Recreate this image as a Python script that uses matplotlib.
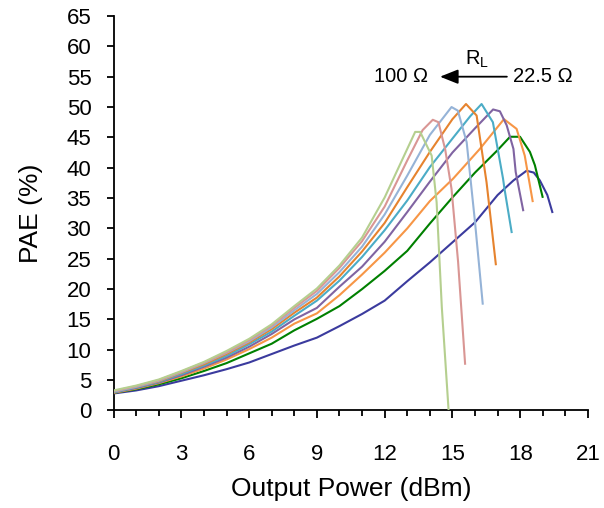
import numpy as np
import matplotlib
matplotlib.use('Agg')
import matplotlib.pyplot as plt
from matplotlib.ticker import MultipleLocator

plt.rcParams['font.family'] = ['Liberation Sans', 'DejaVu Sans']

# ── Data: PAE vs output power for 9 load resistances (22.5 Ω → 100 Ω) ──────────
# 22.5 Ω (navy)
p_navy = [0, 1, 2, 3, 4, 5, 6, 7, 8, 9, 10, 11, 12, 13, 14, 15, 16, 17, 17.7, 18.28, 18.6, 18.87, 19.2, 19.42]
e_navy = [2.8, 3.3, 4.0, 4.9, 5.8, 6.8, 7.9, 9.3, 10.7, 12.0, 13.9, 15.9, 18.1, 21.3, 24.4, 27.7, 31.0, 35.5, 37.9, 39.5, 39.2, 37.9, 35.5, 32.7]
# green
p_green = [0, 1, 2, 3, 4, 5, 6, 7, 8, 9, 10, 11, 12, 13, 14, 15, 16, 17, 17.55, 17.99, 18.43, 18.65, 18.99]
e_green = [2.9, 3.5, 4.3, 5.3, 6.5, 7.8, 9.4, 11.0, 13.2, 15.1, 17.2, 20.0, 23.0, 26.3, 30.8, 35.1, 39.2, 42.9, 45.1, 45.1, 42.6, 40.4, 35.2]
# light orange
p_lorange = [0, 1, 2, 3, 4, 5, 6, 7, 8, 9, 10, 11, 12, 13, 14, 15.03, 16.19, 17.28, 17.84, 18.2, 18.55]
e_lorange = [2.9, 3.6, 4.5, 5.6, 6.9, 8.4, 10.1, 12.0, 14.3, 16.0, 19.0, 22.4, 26.0, 30.0, 34.5, 38.2, 43.0, 48.0, 46.4, 42.0, 34.5]
# purple
p_purple = [0, 1, 2, 3, 4, 5, 6, 7, 8, 9, 10, 11, 12, 13, 14, 15, 16, 16.8, 17.1, 17.4, 17.7, 17.8, 18.13]
e_purple = [3.0, 3.7, 4.6, 5.8, 7.2, 8.7, 10.5, 12.6, 15.0, 16.9, 20.4, 23.7, 27.8, 32.7, 37.7, 42.5, 46.5, 49.6, 49.3, 47.0, 43.1, 39.3, 33.0]
# teal
p_teal = [0, 1, 2, 3, 4, 5, 6, 7, 8, 9, 10, 11, 12, 13, 14, 15, 15.79, 16.29, 16.79, 17.24, 17.3, 17.62]
e_teal = [3.0, 3.8, 4.7, 6.0, 7.4, 9.0, 10.9, 13.0, 15.6, 18.1, 21.4, 25.3, 29.7, 34.6, 40.1, 44.8, 48.5, 50.5, 47.5, 38.2, 36.6, 29.4]
# dark orange
p_dorange = [0, 1, 2, 3, 4, 5, 6, 7, 8, 9, 10, 11, 12, 13, 14, 15, 15.6, 16.07, 16.51, 16.92]
e_dorange = [3.1, 3.9, 4.8, 6.2, 7.6, 9.3, 11.2, 13.4, 16.1, 18.6, 22.1, 26.2, 30.9, 36.8, 42.6, 48.0, 50.5, 48.6, 37.6, 24.1]
# light blue
p_lblue = [0, 1, 2, 3, 4, 5, 6, 7, 8, 9, 10, 11, 12, 13, 14, 14.96, 15.24, 15.63, 16.0, 16.34]
e_lblue = [3.1, 3.9, 4.9, 6.3, 7.8, 9.5, 11.4, 13.7, 16.5, 19.2, 22.8, 27.0, 32.3, 38.7, 45.4, 50.0, 49.4, 44.2, 31.0, 17.6]
# rose
p_rose = [0, 1, 2, 3, 4, 5, 6, 7, 8, 9, 10, 11, 12, 13, 13.68, 14.13, 14.38, 14.68, 14.96, 15.25, 15.56]
e_rose = [3.2, 4.0, 5.0, 6.4, 7.9, 9.6, 11.6, 14.0, 16.9, 19.7, 23.5, 27.9, 33.6, 41.2, 46.2, 47.9, 47.5, 43.0, 36.5, 24.5, 7.7]
# 100 Ω (light green)
p_lgreen = [0, 1, 2, 3, 4, 5, 6, 7, 8, 9, 10, 11, 12, 13.35, 13.57, 14.08, 14.3, 14.53, 14.83]
e_lgreen = [3.3, 4.1, 5.1, 6.5, 8.0, 9.8, 11.8, 14.2, 17.2, 20.1, 23.9, 28.5, 35.1, 45.9, 45.9, 42.0, 34.3, 17.0, 0.0]

curves = [
    (p_navy, e_navy, '#3b3b9e'),
    (p_green, e_green, '#008000'),
    (p_lorange, e_lorange, '#f79646'),
    (p_purple, e_purple, '#8064a2'),
    (p_teal, e_teal, '#4bacc6'),
    (p_dorange, e_dorange, '#e6832e'),
    (p_lblue, e_lblue, '#95b3d7'),
    (p_rose, e_rose, '#d99694'),
    (p_lgreen, e_lgreen, '#b5cf8f'),
]

# ── Plot ──────────────────────────────────────────────────────────────────────
fig = plt.figure(figsize=(6.04, 5.08), dpi=100)
ax = fig.add_axes([0.188, 0.192, 0.7855, 0.7765])

for p, e, c in curves:
    ax.plot(p, e, color=c, lw=1.5, zorder=3)

ax.set_xlim(0, 21)
ax.set_ylim(0, 65)
ax.xaxis.set_major_locator(MultipleLocator(3))
ax.xaxis.set_minor_locator(MultipleLocator(1))
ax.yaxis.set_major_locator(MultipleLocator(5))

for s in ['top', 'right']:
    ax.spines[s].set_visible(False)
for s in ['left', 'bottom']:
    ax.spines[s].set_linewidth(1.3)

ax.tick_params(axis='both', which='major', direction='out', width=1.3, labelsize=16)
ax.tick_params(axis='y', which='major', length=5, pad=11)
ax.tick_params(axis='x', which='major', length=6, pad=18)
ax.tick_params(axis='x', which='minor', direction='out', length=4, width=1.3)

ax.set_xlabel('Output Power (dBm)', fontsize=19, labelpad=9)
ax.set_ylabel('PAE (%)', fontsize=19, labelpad=17)

# R_L annotation
ax.annotate('', xy=(14.45, 55.0), xytext=(17.41, 55.0),
            arrowprops=dict(arrowstyle='-|>,head_length=0.55,head_width=0.22',
                            color='black', lw=1.3, mutation_scale=20,
                            shrinkA=0, shrinkB=0))
ax.text(13.92, 55.0, '100 Ω', fontsize=14.5, ha='right', va='center')
ax.text(17.67, 55.0, '22.5 Ω', fontsize=14.5, ha='left', va='center')
ax.text(16.08, 57.8, '$\\mathregular{R_L}$', fontsize=14.5, ha='center', va='center')

plt.savefig('out.png', dpi=100)
